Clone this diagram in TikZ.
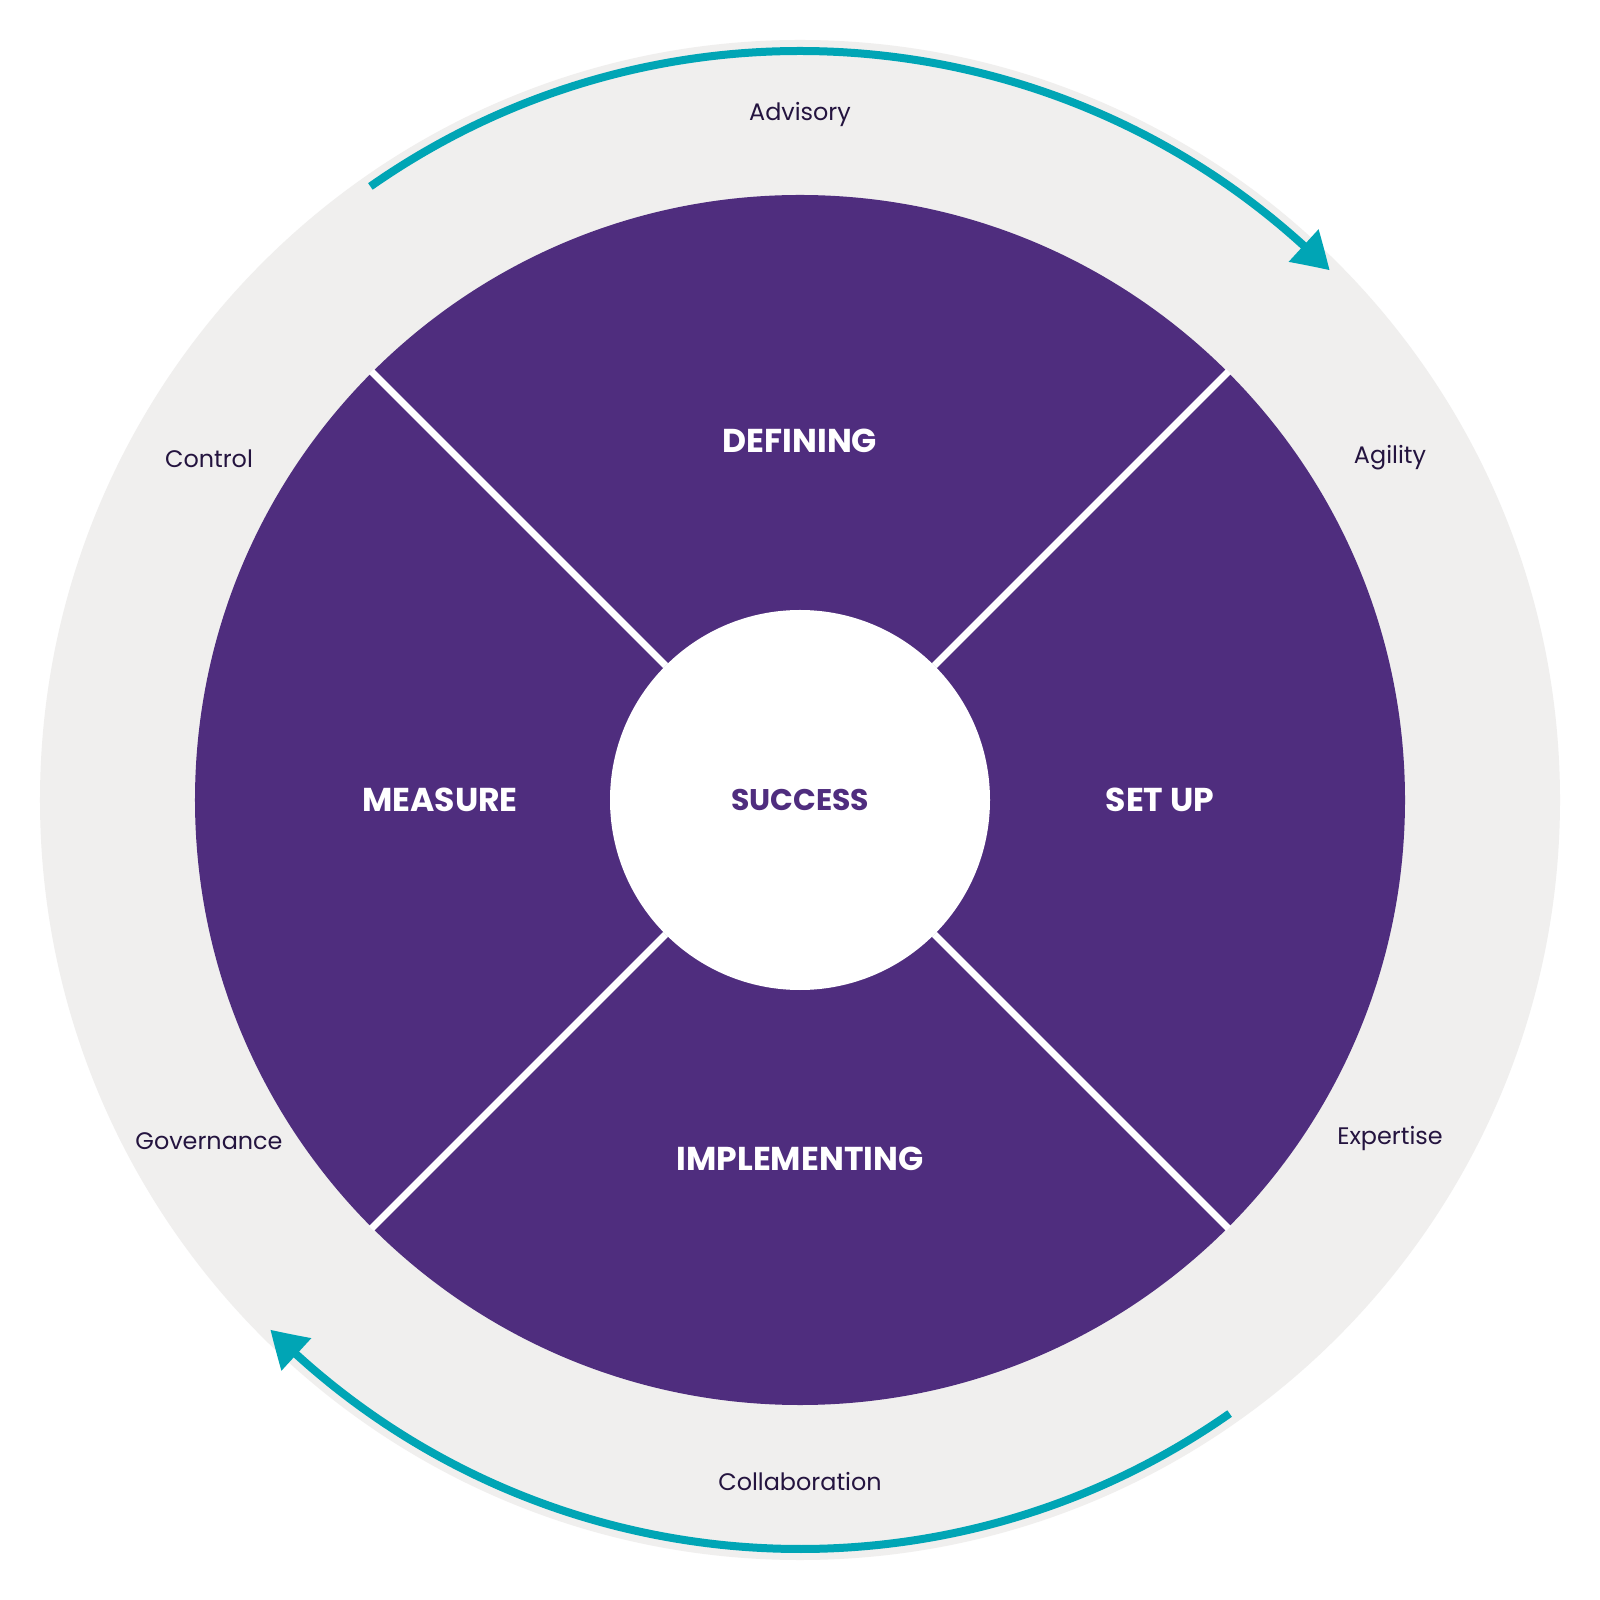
\documentclass[tikz,border=0pt]{standalone}
\usepackage{fontspec}
\setmainfont{Poppins}
\usetikzlibrary{arrows.meta,bending}
\definecolor{wpurple}{HTML}{4F2D7E}
\definecolor{wgray}{HTML}{F0EFEE}
\definecolor{wteal}{HTML}{00A5B5}
\definecolor{wdark}{HTML}{24143F}
\begin{document}
\begin{tikzpicture}[
  phase/.style={text=white,font=\fontsize{9.4}{11}\selectfont\bfseries},
  quality/.style={text=wdark,font=\fontsize{6.8}{8}\selectfont},
  spoke/.style={draw=white,line width=0.07cm},
  cycle/.style={draw=wteal,line width=0.08cm,-{Triangle[length=0.36cm,width=0.42cm,bend]}}
]
\useasboundingbox (-8,-8) rectangle (8,8);
\fill[white] (-8,-8) rectangle (8,8);
\fill[wgray] (0,0) circle[radius=7.6];
\fill[wpurple] (0,0) circle[radius=6.05];
% spokes
\foreach \a in {45,135,225,315}{
  \coordinate (in\a) at (\a:1.9);
  \coordinate (out\a) at (\a:6.06);
  \draw[spoke] (in\a) -- (out\a);
}
\node[circle,fill=white,minimum size=3.8cm,inner sep=0pt] (core) at (0,0) {};
\node[text=wpurple,font=\fontsize{8.5}{10}\selectfont\bfseries] (success) at (core) {SUCCESS};
\node[phase] (defining) at (0,3.59) {DEFINING};
\node[phase] (setup) at (3.6,0) {SET UP};
\node[phase] (measure) at (-3.6,0) {MEASURE};
\node[phase] (implementing) at (0,-3.59) {IMPLEMENTING};
\node[quality] (advisory) at (0,6.85) {Advisory};
\node[quality] (agility) at (5.9,3.42) {Agility};
\node[quality] (control) at (-5.91,3.41) {Control};
\node[quality] (governance) at (-5.91,-3.41) {Governance};
\node[quality] (expertise) at (5.9,-3.39) {Expertise};
\node[quality] (collaboration) at (0,-6.82) {Collaboration};
% cycle arrows
\coordinate (a1) at (125:7.49);
\coordinate (b1) at (-55:7.49);
\draw[cycle] (a1) arc[start angle=125,end angle=45,radius=7.49];
\draw[cycle] (b1) arc[start angle=-55,end angle=-135,radius=7.49];
\end{tikzpicture}
\end{document}
